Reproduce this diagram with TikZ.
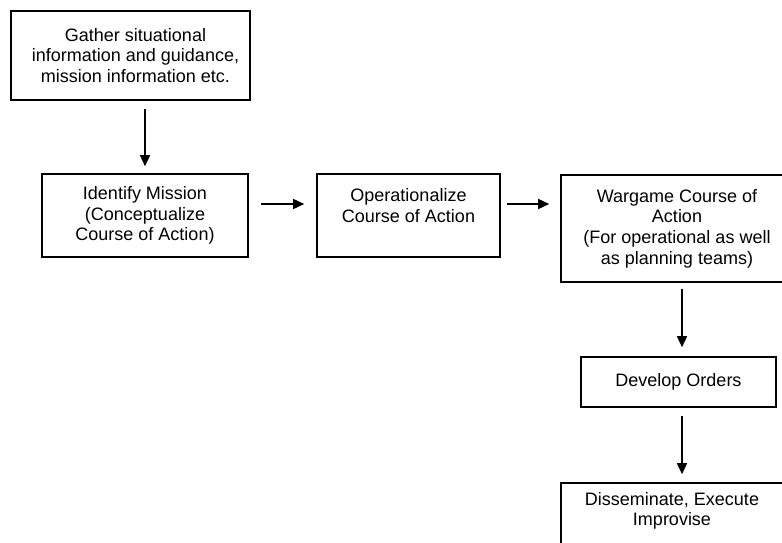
\documentclass[tikz,border=0pt]{standalone}
\usepackage{fontspec}
\setmainfont{Liberation Sans}
\usetikzlibrary{arrows.meta,calc}

\tikzset{
  stepbox/.style={draw=black, line width=1.6pt, rectangle, inner sep=0pt,
    align=center, font=\fontsize{18}{20.7}\selectfont},
  flowarrow/.style={draw=black, line width=1.5pt,
    -{Triangle[length=11pt,width=10pt]}}
}

\begin{document}
\begin{tikzpicture}[x=1pt,y=-1pt]
  \useasboundingbox (0,0) rectangle (782,543);
  \clip (0,0) rectangle (782,543);
  \fill[white] (0,0) rectangle (782,543);

  % process steps (centres and sizes)
  \node[stepbox, minimum width=239pt, minimum height=89pt] (b1) at (130.5,55.5)
    {\hspace*{10pt}Gather situational\\\hspace*{10pt}information and guidance,\\\hspace*{10pt}mission information etc.};
  \node[stepbox, minimum width=206pt, minimum height=83pt] (b2) at (145,215.5)
    {Identify Mission\\(Conceptualize\\Course of Action)};
  \node[stepbox, minimum width=183pt, minimum height=83pt] (b3) at (408.5,215.5)
    {Operationalize\\Course of Action\\\mbox{}};
  \node[stepbox, minimum width=232pt, minimum height=107pt] (b4) at (677,228.5)
    {Wargame Course of\\Action\\(For operational as well\\as planning teams)};
  \node[stepbox, minimum width=195pt, minimum height=50pt] (b5) at (678.5,382)
    {Develop Orders};
  \node[stepbox, minimum width=222pt, minimum height=80pt, text depth=28pt] (b6) at (672,523)
    {Disseminate, Execute\\Improvise};

  % arrow row and column
  \coordinate (rowy) at (0,204);
  \coordinate (colx) at (682,0);

  \draw[flowarrow, shorten <=8pt, shorten >=7pt] (b1.south -| b2.north) -- (b2.north);
  \draw[flowarrow, shorten <=12pt, shorten >=12pt] (b2.east |- rowy) -- (b3.west |- rowy);
  \draw[flowarrow, shorten <=6pt, shorten >=11pt] (b3.east |- rowy) -- (b4.west |- rowy);
  \draw[flowarrow, shorten <=6pt, shorten >=9pt] (b4.south -| colx) -- (b5.north -| colx);
  \draw[flowarrow, shorten <=8pt, shorten >=8pt] (b5.south -| colx) -- (b6.north -| colx);
\end{tikzpicture}
\end{document}
